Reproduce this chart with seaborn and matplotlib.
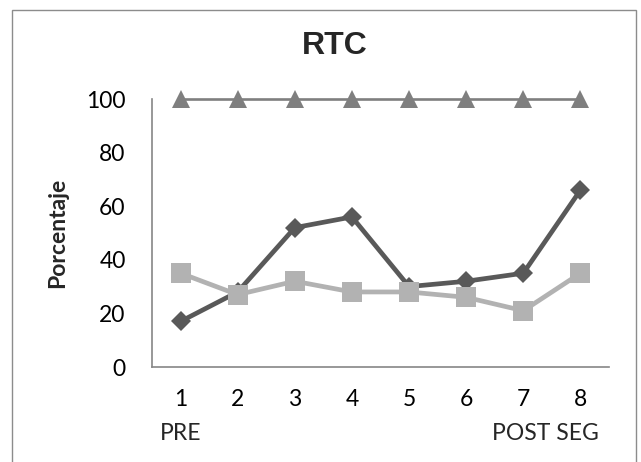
import matplotlib
matplotlib.use("Agg")
import matplotlib.pyplot as plt
import seaborn as sns
import pandas as pd
from matplotlib.patches import Rectangle

# Sessions and percentages for the three series
sessions = [1, 2, 3, 4, 5, 6, 7, 8]
serie_rombo = [17, 28, 52, 56, 30, 32, 35, 66]
serie_cuadrado = [35, 27, 32, 28, 28, 26, 21, 35]
serie_triangulo = [100, 100, 100, 100, 100, 100, 100, 100]
y_ticks = [0, 20, 40, 60, 80, 100]
x_extra = {1: "PRE", 8: "POST SEG"}

sns.set_theme(style="white")
plt.rcParams["font.family"] = ["Lato", "DejaVu Sans"]

fig = plt.figure(figsize=(6.41, 4.62), dpi=100)
ax = fig.add_axes([152 / 641, 1 - 367 / 462, 457 / 641, 268 / 462])

df = pd.DataFrame({
    "sesion": sessions,
    "rombo": serie_rombo,
    "cuadrado": serie_cuadrado,
    "triangulo": serie_triangulo,
})

sns.lineplot(data=df, x="sesion", y="triangulo", ax=ax, color="#7f7f7f",
             linewidth=1.9, marker="^", markersize=13, markeredgewidth=0,
             clip_on=False, zorder=3)
sns.lineplot(data=df, x="sesion", y="rombo", ax=ax, color="#595959",
             linewidth=3.4, marker="D", markersize=10, markeredgewidth=0,
             clip_on=False, zorder=4)
sns.lineplot(data=df, x="sesion", y="cuadrado", ax=ax, color="#b2b2b2",
             linewidth=3.4, marker="s", markersize=14, markeredgewidth=0,
             clip_on=False, zorder=5)

ax.set_xlim(0.5, 8.5)
ax.set_ylim(0, 100)
ax.set_xticks(sessions)
ax.set_xticklabels([str(s) for s in sessions])
ax.set_yticks(y_ticks)
ax.set_yticklabels([str(v) for v in y_ticks])
ax.tick_params(axis="both", length=0, labelsize=16.5, colors="black")
ax.tick_params(axis="x", pad=16)
ax.tick_params(axis="y", pad=19)

for side in ["top", "right"]:
    ax.spines[side].set_visible(False)
for side in ["left", "bottom"]:
    ax.spines[side].set_color("#868686")
    ax.spines[side].set_linewidth(1.2)

ax.set_xlabel("")
ax.set_ylabel("Porcentaje", fontsize=16.5, fontweight="bold", labelpad=13)

# Second row of category labels
ax.annotate(x_extra[1], xy=(1, 0), xycoords=("data", "axes fraction"),
            xytext=(0, -66), textcoords="offset pixels",
            ha="center", va="center", fontsize=16.5)
ax.annotate(x_extra[8], xy=(8, 0), xycoords=("data", "axes fraction"),
            xytext=(18, -66), textcoords="offset pixels",
            ha="right", va="center", fontsize=16.5)

fig.text(335 / 641, 1 - 46 / 462, "RTC", ha="center", va="center",
         fontsize=23, fontweight="bold", family=["Liberation Sans"])

# Chart area border
fig.patches.append(Rectangle((12 / 641, -0.1), 624 / 641, 1.1 - 10 / 462,
                             transform=fig.transFigure, fill=False,
                             edgecolor="#8c8c8c", linewidth=1.0))

fig.savefig("out.png", dpi=100, facecolor="white")
